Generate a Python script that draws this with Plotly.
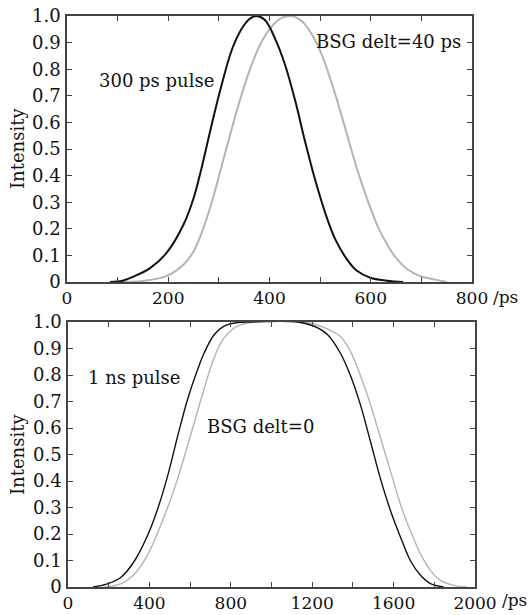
import plotly.graph_objects as go

# ---- Data ----
# Top panel: 300 ps pulse (time in ps, normalized intensity)
top_black_x = [85, 110, 131, 164, 197, 230, 250, 266, 286, 306, 326, 345, 360, 374, 391, 411, 431, 451, 470, 490, 510, 530, 553, 572, 599, 632, 664]
top_black_y = [0.0, 0.005, 0.02, 0.052, 0.11, 0.215, 0.315, 0.43, 0.593, 0.745, 0.875, 0.952, 0.988, 1.0, 0.985, 0.915, 0.815, 0.68, 0.53, 0.385, 0.26, 0.16, 0.085, 0.043, 0.016, 0.005, 0.0]

top_gray_x = [100, 150, 197, 230, 250, 266, 286, 306, 326, 345, 365, 385, 405, 424, 443, 464, 484, 503, 530, 553, 572, 592, 612, 632, 651, 671, 698, 730, 750]
top_gray_y = [0.0, 0.004, 0.023, 0.065, 0.115, 0.185, 0.30, 0.44, 0.58, 0.705, 0.818, 0.906, 0.962, 0.993, 1.0, 0.98, 0.93, 0.856, 0.705, 0.555, 0.43, 0.317, 0.217, 0.142, 0.088, 0.05, 0.022, 0.008, 0.0]

# Bottom panel: 1 ns pulse
bot_black_x = [123, 197, 262, 328, 394, 443, 492, 541, 590, 640, 669, 718, 767, 833, 899, 1128, 1210, 1276, 1338, 1387, 1436, 1486, 1535, 1584, 1633, 1682, 1732, 1781, 1846]
bot_black_y = [0.0, 0.013, 0.038, 0.10, 0.20, 0.30, 0.426, 0.576, 0.714, 0.827, 0.883, 0.952, 0.984, 0.998, 1.0, 1.0, 0.984, 0.952, 0.883, 0.80, 0.69, 0.55, 0.41, 0.29, 0.19, 0.10, 0.044, 0.013, 0.0]

bot_gray_x = [180, 262, 328, 394, 459, 525, 590, 656, 718, 767, 833, 915, 1161, 1243, 1309, 1338, 1387, 1436, 1486, 1535, 1584, 1633, 1682, 1732, 1781, 1830, 1896, 1960]
bot_gray_y = [0.0, 0.013, 0.05, 0.125, 0.24, 0.376, 0.54, 0.714, 0.865, 0.94, 0.984, 1.0, 1.0, 0.984, 0.96, 0.946, 0.89, 0.80, 0.69, 0.564, 0.44, 0.313, 0.213, 0.125, 0.063, 0.025, 0.006, 0.0]

y_tickvals = [0, 0.1, 0.2, 0.3, 0.4, 0.5, 0.6, 0.7, 0.8, 0.9, 1.0]
y_ticktext = ["0", "0.1", "0.2", "0.3", "0.4", "0.5", "0.6", "0.7", "0.8", "0.9", "1.0"]

top_x_tickvals = [0, 100, 200, 300, 400, 500, 600, 700, 800]
top_x_ticktext = ["0", "", "200", "", "400", "", "600", "", "800"]

bot_x_tickvals = [0, 200, 400, 600, 800, 1000, 1200, 1400, 1600, 1800, 2000]
bot_x_ticktext = ["0", "", "400", "", "800", "", "1200", "", "1600", "", "2000"]

W, H = 531, 615
FONT = "DejaVu Serif"
BLACK = "#111111"
GRAY = "#b4b4b4"
FRAME = "#444444"

fig = go.Figure()
fig.add_trace(go.Scatter(x=top_gray_x, y=top_gray_y, mode="lines", line=dict(color=GRAY, width=2, shape="spline", smoothing=1.0), xaxis="x", yaxis="y", showlegend=False))
fig.add_trace(go.Scatter(x=top_black_x, y=top_black_y, mode="lines", line=dict(color=BLACK, width=2, shape="spline", smoothing=1.0), xaxis="x", yaxis="y", showlegend=False))
fig.add_trace(go.Scatter(x=bot_gray_x, y=bot_gray_y, mode="lines", line=dict(color=GRAY, width=1.4, shape="spline", smoothing=1.0), xaxis="x2", yaxis="y2", showlegend=False))
fig.add_trace(go.Scatter(x=bot_black_x, y=bot_black_y, mode="lines", line=dict(color=BLACK, width=1.4, shape="spline", smoothing=1.0), xaxis="x2", yaxis="y2", showlegend=False))

def px_x(p):
    return p / W

def px_y(p):
    return 1 - p / H

axis_common = dict(showgrid=False, zeroline=False, showline=True, linecolor=FRAME, linewidth=1.5,
                   mirror="ticks", ticks="inside", ticklen=5, tickwidth=1.2, tickcolor=FRAME,
                   automargin=False,
                   tickfont=dict(family=FONT, size=18, color="#111111"))

xfont = dict(family=FONT, size=17, color="#111111")

fig.update_layout(
    template="none",
    width=W, height=H, autosize=False,
    margin=dict(l=0, r=0, t=0, b=0, pad=0),
    paper_bgcolor="white", plot_bgcolor="white",
    font=dict(family=FONT, size=18, color="#111111"),
    xaxis=dict(domain=[px_x(67), px_x(472)], range=[0, 800], anchor="y",
               tickmode="array", tickvals=top_x_tickvals, ticktext=top_x_ticktext, ticklabelstandoff=0, **axis_common),
    yaxis=dict(domain=[px_y(282), px_y(16)], range=[0, 1], anchor="x",
               tickmode="array", tickvals=y_tickvals, ticktext=y_ticktext, ticklabelstandoff=1, **axis_common),
    xaxis2=dict(domain=[px_x(68), px_x(475)], range=[0, 2000], anchor="y2",
                tickmode="array", tickvals=bot_x_tickvals, ticktext=bot_x_ticktext, ticklabelstandoff=0, **axis_common),
    yaxis2=dict(domain=[px_y(587), px_y(322)], range=[0, 1], anchor="x2",
                tickmode="array", tickvals=y_tickvals, ticktext=y_ticktext, ticklabelstandoff=1, **axis_common),
)
fig.update_xaxes(tickfont=xfont)

ann_font = dict(family=FONT, size=18, color="#111111")
annotations = [
    dict(text="300 ps pulse", x=60, y=0.758, xref="x", yref="y", xanchor="left", yanchor="middle", showarrow=False, font=ann_font),
    dict(text="BSG delt=40 ps", x=783, y=0.903, xref="x", yref="y", xanchor="right", yanchor="middle", showarrow=False, font=ann_font),
    dict(text="1 ns pulse", x=88, y=0.79, xref="x2", yref="y2", xanchor="left", yanchor="middle", showarrow=False, font=ann_font),
    dict(text="BSG delt=0", x=674, y=0.605, xref="x2", yref="y2", xanchor="left", yanchor="middle", showarrow=False, font=ann_font),
    dict(text="Intensity", x=px_x(17), y=px_y(149), xref="paper", yref="paper", xanchor="center", yanchor="middle", textangle=-90, showarrow=False, font=ann_font),
    dict(text="Intensity", x=px_x(17), y=px_y(455), xref="paper", yref="paper", xanchor="center", yanchor="middle", textangle=-90, showarrow=False, font=ann_font),
    dict(text="/ps", x=px_x(491), y=px_y(297), xref="paper", yref="paper", xanchor="left", yanchor="middle", showarrow=False, font=xfont),
    dict(text="/ps", x=px_x(500), y=px_y(600), xref="paper", yref="paper", xanchor="left", yanchor="middle", showarrow=False, font=xfont),
]
fig.update_layout(annotations=annotations)

fig.write_html("out.html",
               config={"displayModeBar": False},
               post_script="document.body.style.margin='0';document.body.style.padding='0';document.body.style.overflow='hidden';")
